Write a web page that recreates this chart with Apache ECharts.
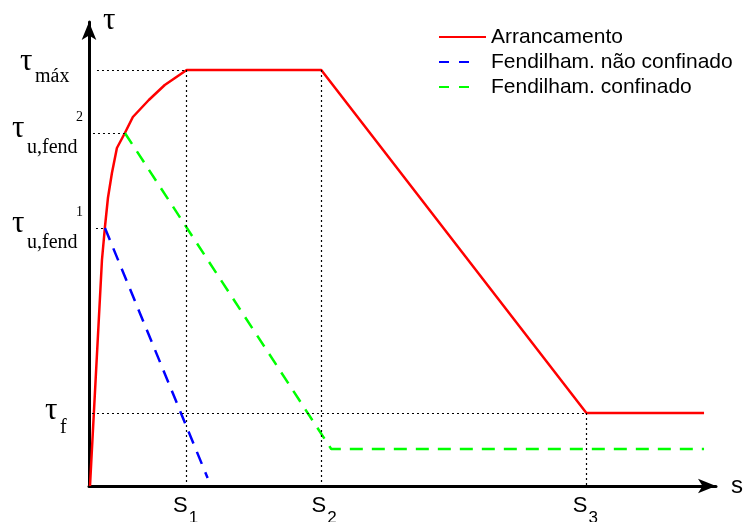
<!DOCTYPE html>
<html><head><meta charset="utf-8">
<script src="https://cdn.jsdelivr.net/npm/echarts@6/dist/echarts.min.js"></script>
<style>html,body{margin:0;padding:0;background:#fff}#c{width:746px;height:522px}</style>
</head><body><div id="c"></div>
<script>
// ---- data (s in arbitrary slip units, tau in arbitrary stress units) ----
const seriesNames = ['Arrancamento', 'Fendilham. não confinado', 'Fendilham. confinado'];
const redS   = [1, 13, 16, 19, 23, 28, 36, 44, 60, 76, 98, 233, 499, 617];
const redTau = [0, 226, 259, 288, 313, 338, 353, 369, 386, 401, 416, 416, 73, 73];
const blueS   = [16, 119];
const blueTau = [258, 8];
const greenS   = [36, 243, 617];
const greenTau = [353, 37, 37];
const sTicks = [98, 233, 499];
const sTickSubs = ['1', '2', '3'];
const tauTicks = [416, 353, 258, 73];
const tauSubs = ['máx', 'u,fend', 'u,fend', 'f'];
const tauSups = ['', '2', '1', ''];
const guideFrom = [[8, 416], [98, 416], [233, 416], [4, 353], [7, 258], [3, 73], [499, 73]];
const guideTo   = [[98, 416], [98, 0], [233, 0], [36, 353], [16, 258], [499, 73], [499, 0]];
const sMax = 629, tauMax = 464;

const zip = (a, b) => a.map((v, i) => [v, b[i]]);
const chart = echarts.init(document.getElementById('c'), null, {renderer: 'canvas'});
const axisLine = {show: true, lineStyle: {color: '#000', width: 3}, symbol: ['none', 'arrow'], symbolSize: [11, 18]};

const option = {
  animation: false,
  backgroundColor: '#fff',
  grid: {left: 89, right: 746 - 89 - sMax, top: 22, bottom: 36},
  xAxis: {
    type: 'value', min: 0, max: sMax,
    axisLine: axisLine, axisTick: {show: false}, axisLabel: {show: false}, splitLine: {show: false},
    name: 's', nameLocation: 'end', nameGap: 15,
    nameTextStyle: {fontFamily: 'Liberation Sans', fontSize: 24, color: '#000', align: 'left', verticalAlign: 'middle', padding: [8, 0, 0, 0]}
  },
  yAxis: {
    type: 'value', min: 0, max: tauMax,
    axisLine: axisLine, axisTick: {show: false}, axisLabel: {show: false}, splitLine: {show: false},
    name: 'τ', nameLocation: 'end', nameGap: 1,
    nameTextStyle: {fontFamily: 'Liberation Serif', fontSize: 31, color: '#000', align: 'left', verticalAlign: 'middle', padding: [10, 0, 0, 14]}
  },
  legend: {
    orient: 'vertical', left: 438, top: 26.5, padding: 0, itemWidth: 47, itemHeight: 14, itemGap: 4,
    selectedMode: false,
    itemStyle: {opacity: 0},
    textStyle: {fontFamily: 'Liberation Sans', fontSize: 21, color: '#000'},
    data: [
      {name: seriesNames[0]},
      {name: seriesNames[1], lineStyle: {type: [10, 10, 10, 30]}},
      {name: seriesNames[2], lineStyle: {type: [10, 10, 10, 30]}}
    ]
  },
  series: [
    {
      name: 'guides', type: 'line', data: [], z: 1, silent: true,
      markLine: {
        silent: true, symbol: ['none', 'none'], label: {show: false},
        lineStyle: {color: '#000', width: 1.2, type: [2, 3]},
        emphasis: {disabled: true},
        data: guideFrom.map((f, i) => [{coord: f}, {coord: guideTo[i]}])
      }
    },
    {
      name: seriesNames[0], type: 'line', data: zip(redS, redTau), symbol: 'none', z: 3,
      lineStyle: {color: '#ff0000', width: 2.5}, itemStyle: {color: '#ff0000'}
    },
    {
      name: seriesNames[1], type: 'line', data: zip(blueS, blueTau), symbol: 'none', z: 3,
      lineStyle: {color: '#0000ff', width: 2.5, type: [13, 9]}, itemStyle: {color: '#0000ff'}
    },
    {
      name: seriesNames[2], type: 'line', data: zip(greenS, greenTau), symbol: 'none', z: 3,
      lineStyle: {color: '#00ff00', width: 2.5, type: [13, 9]}, itemStyle: {color: '#00ff00'}
    }
  ]
};
chart.setOption(option);

// ---- tick labels with sub/superscripts placed via the axes' own scales ----
const P = v => chart.convertToPixel({gridIndex: 0}, v);
const txt = (t, x, y, size, fam, align) => ({
  type: 'text', silent: true, z: 10,
  style: {text: t, x: x, y: y, fontSize: size, fontFamily: fam, fill: '#000',
          align: align, verticalAlign: 'middle', textAlign: align, textVerticalAlign: 'middle'}
});
const tauDx = [-69, -77, -77, -44];
const tauDy = [-8, -4, -4, -2];
const subDy = [6.6, 15.2, 15.2, 15.2];
const xShift = [0, 4, 0];
const els = [];
const axisX = P([0, 0])[0];
tauTicks.forEach((v, i) => {
  const y = P([0, v])[1];
  const tx = axisX + tauDx[i];
  els.push(txt('τ', tx, y + tauDy[i], 31, 'Liberation Serif', 'left'));
  els.push(txt(tauSubs[i], tx + 15, y + subDy[i], 20, 'Liberation Serif', 'left'));
  if (tauSups[i]) els.push(txt(tauSups[i], axisX - 13, y - 16, 14, 'Liberation Serif', 'left'));
});
sTicks.forEach((v, i) => {
  const x = P([v, 0])[0] + xShift[i];
  els.push(txt('S', x + 1, 506, 22, 'Liberation Sans', 'right'));
  els.push(txt(sTickSubs[i], x + 2, 518, 17, 'Liberation Sans', 'left'));
});
chart.setOption({graphic: els});
</script>
</body></html>
